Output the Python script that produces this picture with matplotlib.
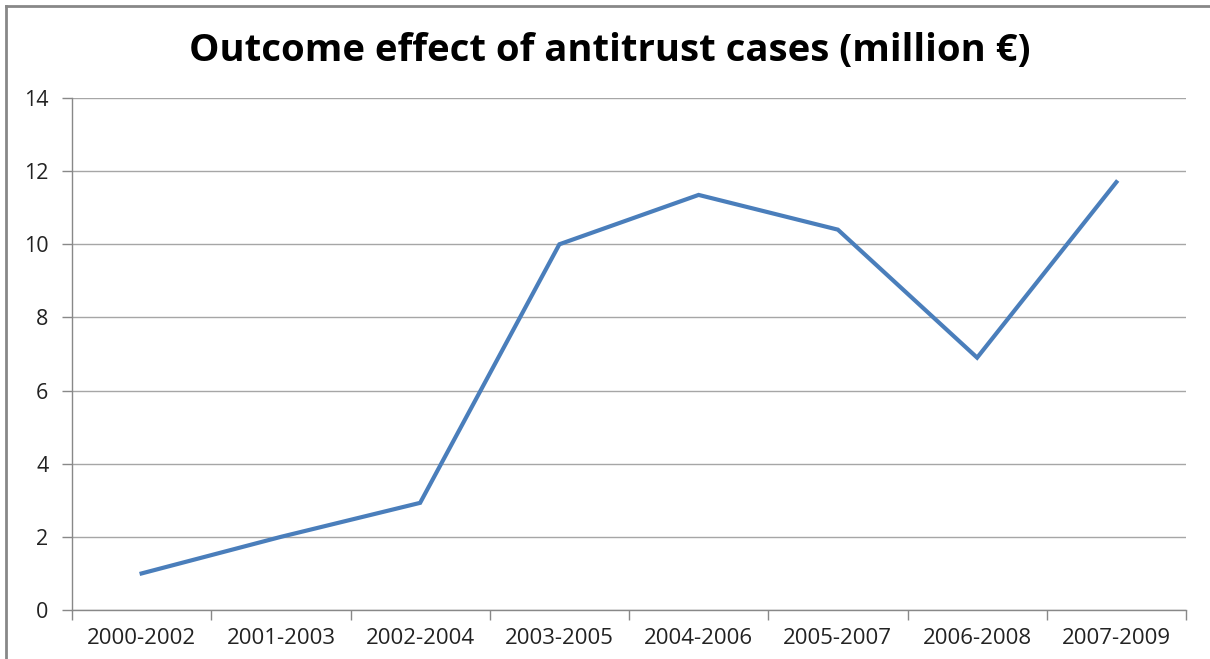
import matplotlib
matplotlib.use("Agg")
import matplotlib.pyplot as plt
from matplotlib.lines import Line2D

periods = ["2000-2002", "2001-2003", "2002-2004", "2003-2005",
           "2004-2006", "2005-2007", "2006-2008", "2007-2009"]
outcome = [1.0, 2.0, 2.93, 10.0, 11.35, 10.4, 6.9, 11.7]
y_ticks = [0, 2, 4, 6, 8, 10, 12, 14]


def main():
    plt.rcParams["font.family"] = ["Open Sans", "DejaVu Sans"]

    fig = plt.figure(figsize=(12.1, 6.59), dpi=100)
    ax = fig.add_axes([72 / 1210, 49 / 659, 1114 / 1210, 512 / 659])

    x = list(range(len(periods)))
    ax.plot(x, outcome, color="#4a7ebb", linewidth=3, solid_joinstyle="miter")

    ax.set_xlim(-0.5, len(periods) - 0.5)
    ax.set_ylim(0, 14)
    ax.set_yticks(y_ticks)
    ax.set_xticks(x)
    ax.set_xticklabels(periods)
    # category boundary ticks like excel
    ax.set_xticks([i - 0.5 for i in range(len(periods) + 1)], minor=True)
    ax.tick_params(axis="x", which="major", length=0, pad=13, labelsize=16, colors="#222222")
    ax.tick_params(axis="x", which="minor", length=7, width=1, color="#888888")
    ax.tick_params(axis="y", length=7, width=1, color="#888888", pad=10,
                   labelsize=15.5, labelcolor="#222222")

    ax.grid(axis="y", color="#a6a6a6", linewidth=1)
    ax.set_axisbelow(True)
    for s in ["top", "right"]:
        ax.spines[s].set_visible(False)
    for s in ["left", "bottom"]:
        ax.spines[s].set_color("#888888")
        ax.spines[s].set_linewidth(1)

    fig.text(0.504, 1 - 51 / 659, "Outcome effect of antitrust cases (million €)",
             ha="center", va="center", fontsize=27.5, fontweight="bold", color="black")

    # outer chart frame (top and left edges visible)
    fig.add_artist(Line2D([6 / 1210, 1], [1 - 6 / 659, 1 - 6 / 659],
                          transform=fig.transFigure, color="#888888", linewidth=2))
    fig.add_artist(Line2D([6 / 1210, 6 / 1210], [0, 1 - 6 / 659],
                          transform=fig.transFigure, color="#888888", linewidth=2))

    fig.savefig("out.png", dpi=100)


if __name__ == "__main__":
    main()
